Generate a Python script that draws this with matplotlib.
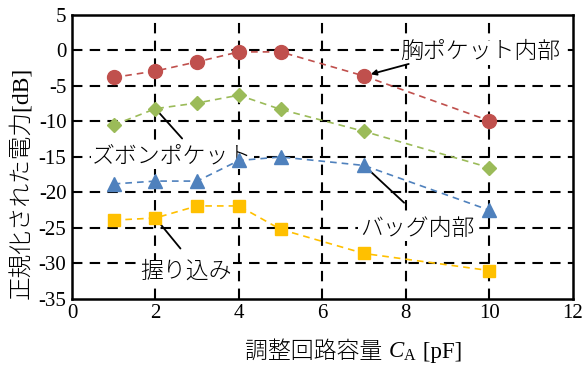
import matplotlib.pyplot as plt
from matplotlib.offsetbox import TextArea, HPacker, AnchoredOffsetbox

plt.rcParams['font.family'] = ['Liberation Serif', 'Noto Sans CJK JP']
plt.rcParams['mathtext.fontset'] = 'custom'
plt.rcParams['mathtext.rm'] = 'Liberation Serif'
plt.rcParams['mathtext.it'] = 'Liberation Serif:italic'
plt.rcParams['axes.unicode_minus'] = False

# 調整回路容量 [pF]
ca = [1, 2, 3, 4, 5, 7, 10]

# 正規化された電力 [dB]
chest = [-3.8, -2.9, -1.6, -0.2, -0.2, -3.6, -9.9]
trouser = [-10.5, -8.2, -7.4, -6.3, -8.3, -11.4, -16.5]
bag = [-18.8, -18.4, -18.4, -15.5, -15.0, -16.2, -22.5]
grip = [-23.9, -23.6, -21.9, -21.9, -25.2, -28.6, -31.0]

fig = plt.figure(figsize=(5.85, 3.65), dpi=100)
ax = fig.add_axes([0.123, 0.181, 0.856, 0.778])

dash = (0, (4, 3))
ax.plot(ca, chest, ls=dash, lw=1.2, color='#C0504D', marker='o', ms=10, zorder=3)
ax.plot(ca, trouser, ls=dash, lw=1.2, color='#9BBB59', marker='D', ms=7.5, zorder=3)
ax.plot(ca, bag, ls=dash, lw=1.2, color='#4F81BD', marker='^', ms=9.5, zorder=3)
ax.plot(ca, grip, ls=dash, lw=1.2, color='#FFC000', marker='s', ms=9, zorder=3)

ax.set_xlim(0, 12)
ax.set_ylim(-35, 5)
ax.set_xticks(range(0, 13, 2))
ax.set_yticks(range(-35, 6, 5))
ax.tick_params(length=0, labelsize=15, pad=4)
for s in ax.spines.values():
    s.set_linewidth(1.8)

for x in range(2, 12, 2):
    ax.axvline(x, color='black', lw=1.5, ls=(0, (5, 3.5)), zorder=0.5)
for y in range(-30, 5, 5):
    ax.axhline(y, color='black', lw=1.5, ls=(0, (5, 3.5)), zorder=0.5)

jp = dict(fontsize=16.5, fontweight='light')

ax.set_ylabel('正規化された電力[dB]', fontsize=17, fontweight='light')
ax.yaxis.set_label_coords(-0.078, 0.41)

# 軸ラベル: 和文 + 斜体の C_A
xlab = HPacker(children=[
    TextArea('調整回路容量 ', textprops=jp),
    TextArea(r'$C_{\mathrm{A}}$', textprops=dict(fontsize=16.5)),
    TextArea(' [pF]', textprops=jp),
], align='baseline', pad=0, sep=0)
fig.add_artist(AnchoredOffsetbox(loc='center', child=xlab, frameon=False, pad=0,
                                 bbox_to_anchor=(0.605, 0.036),
                                 bbox_transform=fig.transFigure))

box = dict(facecolor='white', edgecolor='none', pad=1)

# 凡例代わりのラベルと引き出し線
ax.text(9.78, -0.3, '胸ポケット内部', ha='center', va='center', bbox=box, zorder=1.5, **jp)
ax.annotate('', xy=(7, chest[5]), xytext=(8.07, -1.9),
            arrowprops=dict(arrowstyle='-|>', color='black', lw=1.3,
                            mutation_scale=8, shrinkA=0, shrinkB=5), zorder=2.5)

ax.text(2.4, -15.0, 'ズボンポケット', ha='center', va='center', bbox=box, zorder=1.5, **jp)
ax.annotate('', xy=(2, trouser[1]), xytext=(2.64, -12.4),
            arrowprops=dict(arrowstyle='-', color='black', lw=1.3,
                            shrinkA=0, shrinkB=0), zorder=2.5)

ax.text(8.27, -25.2, 'バッグ内部', ha='center', va='center', bbox=box, zorder=1.5, **jp)
ax.annotate('', xy=(7, bag[5]), xytext=(7.96, -21.45),
            arrowprops=dict(arrowstyle='-', color='black', lw=1.3,
                            shrinkA=0, shrinkB=0), zorder=2.5)

ax.text(2.73, -31.2, '握り込み', ha='center', va='center', bbox=box, zorder=1.5, **jp)
ax.annotate('', xy=(2, grip[1]), xytext=(2.6, -27.9),
            arrowprops=dict(arrowstyle='-', color='black', lw=1.3,
                            shrinkA=0, shrinkB=0), zorder=2.5)

fig.savefig('out.png', dpi=100)
